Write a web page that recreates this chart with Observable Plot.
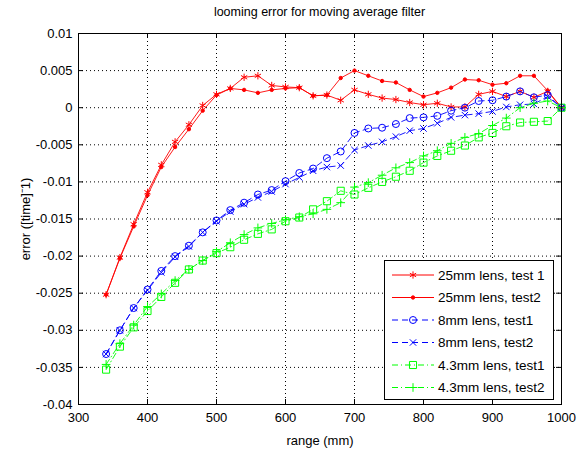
<!DOCTYPE html>
<html><head><meta charset="utf-8">
<script src="https://cdn.jsdelivr.net/npm/d3@7"></script>
<script src="https://cdn.jsdelivr.net/npm/@observablehq/plot@0.6"></script>
<style>
body{margin:0;background:#fff;width:582px;height:452px;overflow:hidden;font-family:"Liberation Sans",Arial,sans-serif;}
#title{height:24px;line-height:25px;text-align:center;font-size:12.5px;padding-left:57px;box-sizing:border-box;width:582px;}
</style></head><body>
<div id="title">looming error for moving average filter</div>
<div id="chart"></div>
<script>
// range (mm)
const ranges = [340,360,380,400,420,440,460,480,500,520,540,560,580,600,620,640,660,680,700,720,740,760,780,800,820,840,860,880,900,920,940,960,980,1000];
const lens25test1 = [-0.0252,-0.0202,-0.0157,-0.0114,-0.0077,-0.0046,-0.0023,0.0003,0.0018,0.0026,0.0041,0.0043,0.0030,0.0028,0.0027,0.0016,0.0017,0.0010,0.0024,0.0018,0.0013,0.0011,0.0007,0.0004,0.0006,0.0001,0.0001,0.0018,0.0022,0.0015,0.0022,0.0014,0.0022,0];
const lens25test2 = [-0.0252,-0.0203,-0.0160,-0.0118,-0.0080,-0.0053,-0.0029,-0.0004,0.0017,0.0026,0.0024,0.0020,0.0024,0.0026,0.0027,0.0016,0.0017,0.0040,0.0050,0.0043,0.0036,0.0034,0.0024,0.0015,0.0020,0.0027,0.0038,0.0037,0.0031,0.0033,0.0043,0.0043,0.0023,0];
const lens8test1 = [-0.0332,-0.0300,-0.0270,-0.0245,-0.0220,-0.0200,-0.0186,-0.0168,-0.0152,-0.0138,-0.0128,-0.0117,-0.0111,-0.0099,-0.0088,-0.0082,-0.0068,-0.0059,-0.0034,-0.0028,-0.0027,-0.0022,-0.0014,-0.0013,-0.0011,-0.0004,0.0000,0.0009,0.0010,0.0015,0.0022,0.0014,0.0017,0];
const lens8test2 = [-0.0332,-0.0300,-0.0270,-0.0246,-0.0222,-0.0201,-0.0187,-0.0168,-0.0153,-0.0140,-0.0130,-0.0121,-0.0113,-0.0103,-0.0094,-0.0085,-0.0080,-0.0078,-0.0057,-0.0051,-0.0046,-0.0039,-0.0031,-0.0028,-0.0021,-0.0013,-0.0010,-0.0008,-0.0005,0.0001,0.0004,0.0005,0.0015,0];
const lens43test1 = [-0.0353,-0.0322,-0.0296,-0.0274,-0.0255,-0.0236,-0.0218,-0.0206,-0.0196,-0.0188,-0.0178,-0.0170,-0.0164,-0.0153,-0.0148,-0.0137,-0.0126,-0.0112,-0.0117,-0.0108,-0.0100,-0.0093,-0.0085,-0.0074,-0.0065,-0.0058,-0.0051,-0.0040,-0.0034,-0.0025,-0.0020,-0.0019,-0.0018,0];
const lens43test2 = [-0.0346,-0.0318,-0.0293,-0.0268,-0.0251,-0.0233,-0.0218,-0.0206,-0.0194,-0.0182,-0.0171,-0.0162,-0.0156,-0.0151,-0.0147,-0.0143,-0.0137,-0.0128,-0.0107,-0.0101,-0.0091,-0.0081,-0.0074,-0.0065,-0.0058,-0.0048,-0.0040,-0.0035,-0.0024,-0.0014,0.0000,0.0006,0.0009,0];

const seriesNames = ["25mm lens, test 1","25mm lens, test2","8mm lens, test1","8mm lens, test2","4.3mm lens, test1","4.3mm lens, test2"];
const seriesValues = [lens25test1,lens25test2,lens8test1,lens8test2,lens43test1,lens43test2];
const seriesColors = ["#ff0000","#ff0000","#0000ff","#0000ff","#00ff00","#00ff00"];
const seriesDash = [null,null,"6,4","6,4","6,3,1,3","6,3,1,3"];
const seriesSymbol = ["asterisk","point","circle","times","square","plus"];

const xTicks = [300,400,500,600,700,800,900,1000];
const yTicks = [-0.04,-0.035,-0.03,-0.025,-0.02,-0.015,-0.01,-0.005,0,0.005,0.01];

const W = 582, H = 428, mL = 78, mR = 21, mT = 9, mB = 48;
const fw = W - mL - mR, fh = H - mT - mB;

const tables = seriesValues.map((vals, i) => ranges.map((r, j) => ({range: r, error: vals[j], series: seriesNames[i]})));

const symOpts = {
  asterisk: {symbol: "asterisk", r: 3.4, fill: "none"},
  point: {symbol: "circle", r: 1.7},
  circle: {symbol: "circle", r: 3.5, fill: "none"},
  times: {symbol: "times", r: 3, fill: "none"},
  square: {symbol: "square", r: 4, fill: "none"},
  plus: {symbol: "plus", r: 2.9, fill: "none"}
};

const marks = [
  Plot.gridX(xTicks, {stroke: "#000", strokeOpacity: 1, strokeDasharray: "1,3"}),
  Plot.gridY(yTicks, {stroke: "#000", strokeOpacity: 1, strokeDasharray: "1,3"}),
  Plot.ruleX(xTicks, {stroke: "#000", insetTop: fh - 5}),
  Plot.ruleX(xTicks, {stroke: "#000", insetBottom: fh - 5}),
  Plot.ruleY(yTicks, {stroke: "#000", insetRight: fw - 5}),
  Plot.ruleY(yTicks, {stroke: "#000", insetLeft: fw - 5}),
  Plot.axisX(xTicks, {tickSize: 0, tickPadding: 8, fontSize: 13, tickFormat: d => String(d), label: "range (mm)", labelAnchor: "center", labelOffset: 40, labelArrow: "none"}),
  Plot.axisY(yTicks, {tickSize: 0, tickPadding: 6, fontSize: 13, tickFormat: d => String(+d.toFixed(3)), label: "error ([time]⁻1)", labelAnchor: "center", labelOffset: 58, labelArrow: "none"})
];
tables.forEach((t, i) => {
  marks.push(Plot.line(t, {x: "range", y: "error", stroke: seriesColors[i], strokeWidth: 0.9, strokeDasharray: seriesDash[i]}));
  const s = symOpts[seriesSymbol[i]];
  const o = {x: "range", y: "error", stroke: seriesColors[i], strokeWidth: 1, symbol: s.symbol, r: s.r};
  o.fill = s.fill === "none" ? "none" : seriesColors[i];
  marks.push(Plot.dot(t, o));
});
marks.push(Plot.frame({stroke: "#000"}));

const chart = Plot.plot({
  width: W, height: H,
  marginLeft: mL, marginRight: mR, marginTop: mT, marginBottom: mB,
  x: {domain: [300, 1000]},
  y: {domain: [-0.04, 0.01]},
  style: {fontFamily: "Liberation Sans, Arial, sans-serif", fontSize: "12px", color: "#000", background: "#fff", overflow: "visible"},
  marks
});
document.getElementById("chart").appendChild(chart);

// legend
const svg = d3.select(chart);
const lg = svg.append("g").attr("font-family", "Liberation Sans, Arial, sans-serif").attr("font-size", "13.5px").attr("text-anchor", "start");
const lx = 384, ly = 236, lw = 169, lh = 139, rowH = 22.5, row0 = 15;
lg.append("rect").attr("x", lx + 0.5).attr("y", ly + 0.5).attr("width", lw).attr("height", lh).attr("fill", "#fff").attr("stroke", "#000");
const d3sym = {
  asterisk: [d3.symbolAsterisk, 3.4], point: [d3.symbolCircle, 1.7], circle: [d3.symbolCircle, 3.5],
  times: [d3.symbolTimes, 3], square: [d3.symbolSquare, 4], plus: [d3.symbolPlus, 2.9]
};
seriesNames.forEach((name, i) => {
  const y = ly + row0 + i * rowH;
  const ln = lg.append("line").attr("x1", lx + 8).attr("x2", lx + 50).attr("y1", y).attr("y2", y)
    .attr("stroke", seriesColors[i]).attr("stroke-width", 1);
  if (seriesDash[i]) ln.attr("stroke-dasharray", seriesDash[i]);
  const [type, r] = d3sym[seriesSymbol[i]];
  lg.append("path").attr("transform", `translate(${lx + 29},${y})`)
    .attr("d", d3.symbol(type, r * r * Math.PI)())
    .attr("fill", seriesSymbol[i] === "point" ? seriesColors[i] : "none")
    .attr("stroke", seriesColors[i]).attr("stroke-width", 1);
  lg.append("text").attr("x", lx + 54).attr("y", y).attr("dy", "0.35em").attr("text-anchor", "start").attr("fill", "#000").text(name);
});
</script>
</body></html>
